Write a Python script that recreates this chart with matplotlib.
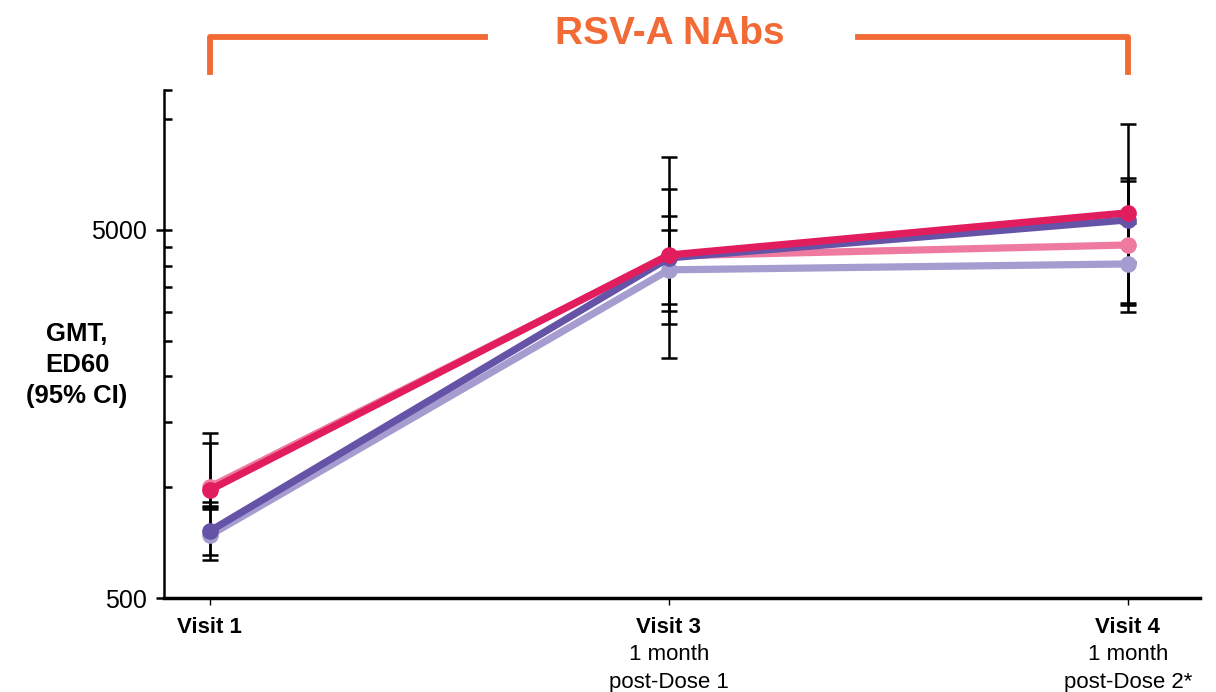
import numpy as np
import matplotlib
matplotlib.use("Agg")
import matplotlib.pyplot as plt
from matplotlib.ticker import FixedLocator, NullFormatter, FixedFormatter
import matplotlib.transforms as mtransforms

plt.rcParams["font.family"] = ["Liberation Sans", "DejaVu Sans"]

# data (GMT, ED60) at the three visits
visits = ["Visit 1", "Visit 3", "Visit 4"]
visit_notes = ["", "1 month\npost-Dose 1", "1 month\npost-Dose 2*"]
x_pos = [0, 1, 2]

lavender_gmt = [741, 3896, 4042]
lightpink_gmt = [1001, 4250, 4551]
purple_gmt = [760, 4197, 5325]
pink_gmt = [983, 4275, 5566]

lavender_lo = [634, 2777, 3128]
lavender_hi = [884, 5460, 5227]
lightpink_lo = [889, 3013, 2993]
lightpink_hi = [1319, 6463, 6796]
purple_lo = [654, 3147, 4094]
purple_hi = [912, 5000, 6923]
pink_lo = [873, 2244, 3165]
pink_hi = [1404, 7897, 9707]

series = [
    (lavender_gmt, lavender_lo, lavender_hi, "#a59ccf"),
    (lightpink_gmt, lightpink_lo, lightpink_hi, "#ef7aa0"),
    (purple_gmt, purple_lo, purple_hi, "#6553a7"),
    (pink_gmt, pink_lo, pink_hi, "#e21d5e"),
]

orange = "#f26a35"

fig = plt.figure(figsize=(12.16, 6.92), dpi=100)
ax = fig.add_axes([164 / 1216, 94 / 692, 1036 / 1216, 508 / 692])

# error bars first so the lines sit on top
for gmt, lo, hi, col in series:
    gmt = np.array(gmt)
    yerr = [gmt - np.array(lo), np.array(hi) - gmt]
    ax.errorbar(x_pos, gmt, yerr=yerr, fmt="none", ecolor="black",
                elinewidth=1.8, capsize=5.5, capthick=1.8, zorder=2)

for i, (gmt, lo, hi, col) in enumerate(series):
    ax.plot(x_pos, gmt, color=col, lw=5.2, marker="o", ms=11,
            solid_capstyle="round", zorder=3 + i)

ax.set_yscale("log")
ax.set_ylim(500, 12000)
ax.set_xlim(-0.1, 2.157)

ax.yaxis.set_major_locator(FixedLocator([500, 5000]))
ax.yaxis.set_major_formatter(FixedFormatter(["500", "5000"]))
ax.yaxis.set_minor_locator(FixedLocator([1000, 1500, 2000, 2500, 3000, 3500,
                                         4000, 4500, 10000, 12000]))
ax.yaxis.set_minor_formatter(NullFormatter())
ax.tick_params(axis="y", which="major", direction="inout", length=12,
               width=1.8, labelsize=18, pad=6)
ax.tick_params(axis="y", which="minor", direction="in", length=6, width=1.8)

ax.set_xticks(x_pos)
ax.set_xticklabels(visits, fontsize=16, fontweight="bold")
ax.tick_params(axis="x", direction="out", length=5, width=1.0, pad=9)

trans = mtransforms.blended_transform_factory(ax.transData, ax.transAxes)
for xp, note in zip(x_pos, visit_notes):
    if note:
        ax.text(xp, -0.09, note, transform=trans, ha="center", va="top",
                fontsize=16, linespacing=1.45)

for side in ["top", "right"]:
    ax.spines[side].set_visible(False)
ax.spines["left"].set_linewidth(1.8)
ax.spines["bottom"].set_linewidth(2.5)

fig.text(77 / 1216, 1 - 365 / 692, "GMT,\nED60\n(95% CI)", ha="center",
         va="center", fontsize=18.5, fontweight="bold", linespacing=1.35)

# orange bracket with title
bx_l = [x_pos[0], x_pos[0], 0.599]
bx_r = [1.412, x_pos[-1], x_pos[-1]]
ax.plot(bx_l, [1.035, 1.104, 1.104], color=orange, lw=4.2, transform=trans,
        clip_on=False, solid_joinstyle="round")
ax.plot(bx_r, [1.104, 1.104, 1.035], color=orange, lw=4.2, transform=trans,
        clip_on=False, solid_joinstyle="round")
fig.text(670 / 1216, 1 - 34 / 692, "RSV-A NAbs", ha="center", va="center",
         fontsize=28, fontweight="bold", color=orange)

fig.savefig("out.png", dpi=100)
